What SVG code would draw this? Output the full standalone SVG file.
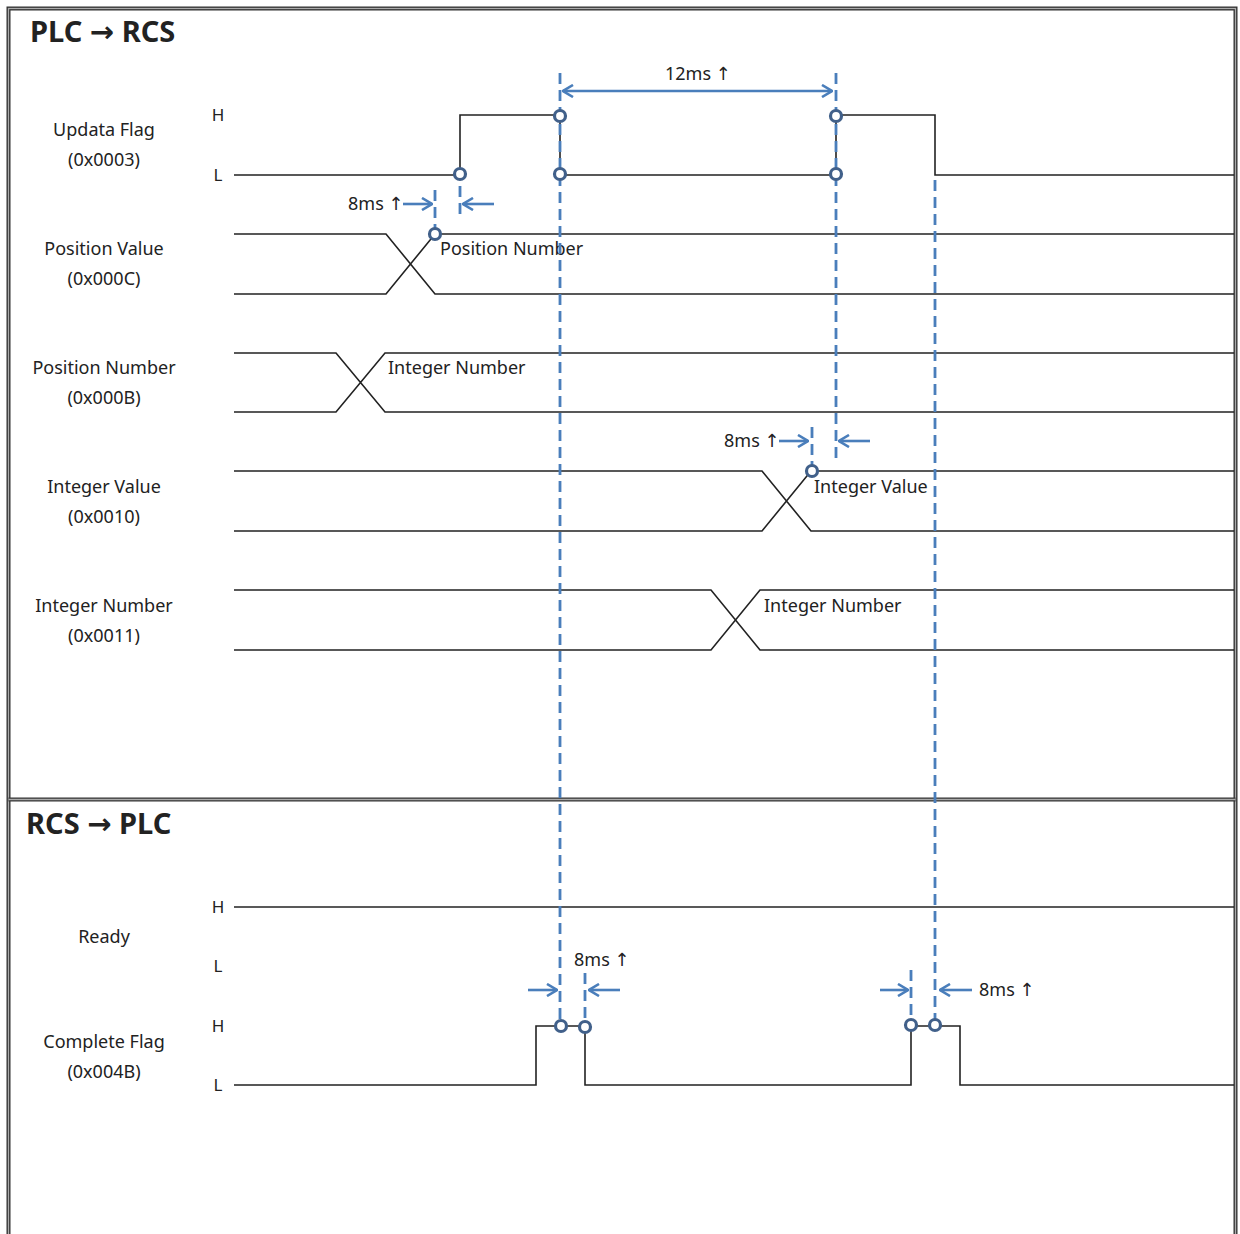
<svg xmlns="http://www.w3.org/2000/svg" width="1240" height="1234" viewBox="0 0 1240 1234">
<style>
text{font-family:"Noto Sans","DejaVu Sans",sans-serif;fill:#222}
.title{font-size:29px;font-weight:bold}
.lbl{font-size:18px;text-anchor:middle}
.hl{font-size:17px;text-anchor:middle}
.val{font-size:18px}
.sig{fill:none;stroke:#222;stroke-width:1.6}
.dash{fill:none;stroke:#4a7ebb;stroke-width:2.8;stroke-dasharray:11 6}
.arr{fill:none;stroke:#4a7ebb;stroke-width:2.6}
.dot{fill:#fff;stroke:#41608a;stroke-width:3.2}
.frame{fill:none;stroke:#333;stroke-width:4}
.frame2{fill:none;stroke:#aaa;stroke-width:1.3}
</style>
<defs>
<marker id="ah" viewBox="0 0 12 14" refX="11" refY="7" markerWidth="12" markerHeight="14" markerUnits="userSpaceOnUse" orient="auto-start-reverse">
<path d="M1,1 L11,7 L1,13" fill="none" stroke="#4a7ebb" stroke-width="2.6"/>
</marker>
</defs>
<rect width="1240" height="1234" fill="#fff"/>
<g id="frame">
<rect class="frame" x="8.5" y="8.5" width="1227" height="1240"/>
<rect class="frame2" x="8.5" y="8.5" width="1227" height="1240"/>
<line class="frame" x1="8.5" y1="799.5" x2="1235.5" y2="799.5"/>
<line class="frame2" x1="8.5" y1="799.5" x2="1235.5" y2="799.5"/>
</g>
<g id="titles">
<text class="title" x="30" y="42">PLC → RCS</text>
<text class="title" x="26" y="834">RCS → PLC</text>
</g>
<g id="labels">
<text class="lbl" x="104" y="136">Updata Flag</text>
<text class="lbl" x="104" y="166">(0x0003)</text>
<text class="lbl" x="104" y="255">Position Value</text>
<text class="lbl" x="104" y="285">(0x000C)</text>
<text class="lbl" x="104" y="374">Position Number</text>
<text class="lbl" x="104" y="404">(0x000B)</text>
<text class="lbl" x="104" y="493">Integer Value</text>
<text class="lbl" x="104" y="523">(0x0010)</text>
<text class="lbl" x="104" y="612">Integer Number</text>
<text class="lbl" x="104" y="642">(0x0011)</text>
<text class="lbl" x="104" y="943">Ready</text>
<text class="lbl" x="104" y="1048">Complete Flag</text>
<text class="lbl" x="104" y="1078">(0x004B)</text>
<text class="hl" x="218" y="121">H</text>
<text class="hl" x="218" y="181">L</text>
<text class="hl" x="218" y="913">H</text>
<text class="hl" x="218" y="972">L</text>
<text class="hl" x="218" y="1032">H</text>
<text class="hl" x="218" y="1091">L</text>
</g>
<g id="signals">
<path class="sig" d="M234,175 H460 V115 H560 V175 H836 V115 H935 V175 H1234"/>
<path class="sig" d="M234,234 H386 L435,294 H1234 M234,294 H386 L435,234 H1234"/>
<path class="sig" d="M234,353 H336 L385,412 H1234 M234,412 H336 L385,353 H1234"/>
<path class="sig" d="M234,471 H762 L811,531 H1234 M234,531 H762 L811,471 H1234"/>
<path class="sig" d="M234,590 H711 L760,650 H1234 M234,650 H711 L760,590 H1234"/>
<path class="sig" d="M234,907 H1234"/>
<path class="sig" d="M234,1085 H536 V1026 H585 V1085 H911 V1026 H960 V1085 H1234"/>
</g>
<g id="values">
<text class="val" x="440" y="255">Position Number</text>
<text class="val" x="388" y="374">Integer Number</text>
<text class="val" x="814" y="493">Integer Value</text>
<text class="val" x="764" y="612">Integer Number</text>
</g>
<g id="connectors">
<path class="dash" d="M560,73 V1020"/>
<path class="dash" d="M836,73 V458"/>
<path class="dash" d="M935,180 V1020"/>
<path class="dash" d="M435,190 V228"/>
<path class="dash" d="M460,186 V218"/>
<path class="dash" d="M812,427 V465"/>
<path class="dash" d="M585,973 V1020"/>
<path class="dash" d="M911,970 V1020"/>
<line class="arr" x1="563" y1="91" x2="832" y2="91" marker-start="url(#ah)" marker-end="url(#ah)"/>
<line class="arr" x1="403" y1="204" x2="432" y2="204" marker-end="url(#ah)"/>
<line class="arr" x1="494" y1="204" x2="463" y2="204" marker-end="url(#ah)"/>
<line class="arr" x1="779" y1="441" x2="808" y2="441" marker-end="url(#ah)"/>
<line class="arr" x1="870" y1="441" x2="839" y2="441" marker-end="url(#ah)"/>
<line class="arr" x1="528" y1="990" x2="557" y2="990" marker-end="url(#ah)"/>
<line class="arr" x1="620" y1="990" x2="589" y2="990" marker-end="url(#ah)"/>
<line class="arr" x1="880" y1="990" x2="908" y2="990" marker-end="url(#ah)"/>
<line class="arr" x1="972" y1="990" x2="940" y2="990" marker-end="url(#ah)"/>
</g>
<g id="timing-labels">
<text class="val" x="665" y="80">12ms ↑</text>
<text class="val" x="348" y="210">8ms ↑</text>
<text class="val" x="724" y="447">8ms ↑</text>
<text class="val" x="574" y="966">8ms ↑</text>
<text class="val" x="979" y="996">8ms ↑</text>
</g>
<g id="points">
<circle class="dot" cx="460" cy="174" r="5.5"/>
<circle class="dot" cx="560" cy="116" r="5.5"/>
<circle class="dot" cx="560" cy="174" r="5.5"/>
<circle class="dot" cx="836" cy="116" r="5.5"/>
<circle class="dot" cx="836" cy="174" r="5.5"/>
<circle class="dot" cx="435" cy="234" r="5.5"/>
<circle class="dot" cx="812" cy="471" r="5.5"/>
<circle class="dot" cx="561" cy="1026" r="5.5"/>
<circle class="dot" cx="585" cy="1027" r="5.5"/>
<circle class="dot" cx="911" cy="1025" r="5.5"/>
<circle class="dot" cx="935" cy="1025" r="5.5"/>
</g>
</svg>
